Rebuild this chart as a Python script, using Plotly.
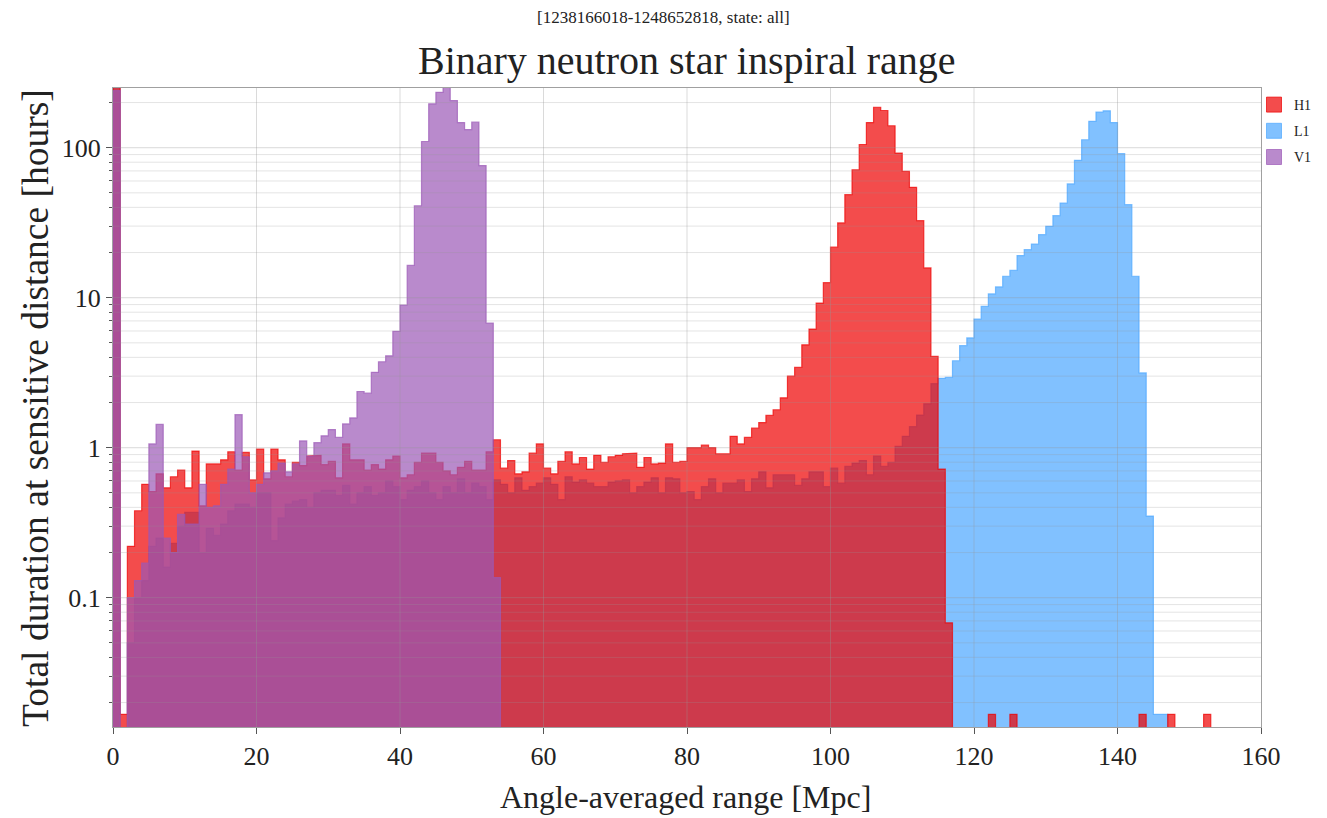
import math
import plotly.graph_objects as go

# ---------------- data (hours per 1-Mpc bin) ----------------
bin_edges = list(range(0, 161))

H1 = ([400, 0.0167,
       0.22, 0.38, 0.57, 0.51, 0.67, 0.54, 0.64, 0.71, 0.54, 0.95,
       0.41, 0.78, 0.78, 0.83, 0.94, 0.71, 0.93, 0.61, 0.98, 0.62,
       0.98, 0.83, 0.64, 0.80, 0.76, 0.88, 0.89, 0.77, 0.81, 0.63,
       1.06, 0.83, 0.83, 0.71, 0.77, 0.72, 0.83, 0.88, 0.63, 0.66,
       0.80, 0.92, 0.92, 0.80, 0.70, 0.66, 0.74, 0.81, 0.71, 0.71,
       0.94, 1.13,
       0.73, 0.82, 0.67, 0.69, 0.92, 1.06, 0.73, 0.67, 0.81, 0.94,
       0.78, 0.86, 0.72, 0.89, 0.80, 0.87, 0.89, 0.91, 0.92, 0.74,
       0.86, 0.78, 0.79, 1.06, 0.80, 0.81, 1.00, 1.00, 1.04, 1.00,
       0.91, 0.91, 1.19, 1.06, 1.17, 1.35, 1.47, 1.64, 1.79, 2.15,
       3.00, 3.43, 4.85, 6.18, 9.21, 12.6, 21.7, 31.5, 48.6, 71.3,
       105, 147, 186, 177, 140, 92, 69.5, 54.4, 32.6, 15.8,
       4.06, 0.72, 0.068,
       0, 0, 0, 0, 0, 0.0167, 0, 0, 0.0167]
      + [0] * 17
      + [0.0167, 0, 0, 0, 0.0167, 0, 0, 0, 0, 0.0167]
      + [0] * 7)

L1 = [400, 0,
      0.05, 0.10, 0.13, 0.22, 0.25, 0.16, 0.23, 0.30, 0.37, 0.37,
      0.20, 0.29, 0.26, 0.31, 0.38, 0.42, 0.42, 0.40, 0.50, 0.50,
      0.24, 0.34, 0.42, 0.44, 0.45, 0.40, 0.50, 0.52, 0.52, 0.48,
      0.56, 0.42, 0.50, 0.55, 0.48, 0.50, 0.60, 0.55, 0.45, 0.52,
      0.55, 0.60, 0.50, 0.45, 0.55, 0.50, 0.62, 0.50, 0.58, 0.55,
      0.45, 0.61,
      0.57, 0.50, 0.63, 0.52, 0.55, 0.58, 0.63, 0.57, 0.45, 0.64,
      0.59, 0.61, 0.58, 0.55, 0.55, 0.59, 0.60, 0.61, 0.50, 0.55,
      0.59, 0.63, 0.50, 0.63, 0.62, 0.50, 0.51, 0.45, 0.55, 0.62,
      0.50, 0.58, 0.58, 0.61, 0.51, 0.62, 0.69, 0.54, 0.66, 0.66,
      0.66, 0.56, 0.62, 0.69, 0.69, 0.55, 0.73, 0.58, 0.75, 0.79,
      0.82, 0.66, 0.88, 0.75, 0.80, 1.02, 1.19, 1.38, 1.65, 1.96,
      2.67, 2.90, 2.94,
      3.80, 4.79, 5.39, 7.21, 8.75, 10.6, 11.8, 13.9, 15.2, 19.1,
      20.9, 22.8, 26.3, 29.9, 35.2, 42.8, 57.3, 82.4, 113, 150,
      173, 176, 147, 91.2, 41.7, 13.9, 3.15, 0.35, 0.0167, 0.0167,
      0, 0, 0, 0, 0, 0, 0, 0, 0, 0,
      0, 0, 0]

V1 = [240, 0,
      0.10, 0.13, 0.17, 1.06, 1.43, 0.25, 0.20, 0.36, 0.31, 0.31,
      0.57, 0.40, 0.41, 0.57, 0.72, 1.66, 0.87, 0.50, 0.57, 0.68,
      0.70, 0.79, 0.69, 0.78, 1.11, 0.88, 1.08, 1.20, 1.32, 1.17,
      1.44, 1.58, 2.37, 2.31, 3.18, 3.74, 4.10, 5.97, 8.94, 16.4,
      41, 110, 196, 234, 255, 206, 147, 132, 148, 76,
      6.78, 0.136] + [0] * 106

assert len(H1) == len(L1) == len(V1) == len(bin_edges) - 1

series = [("H1", H1, (238, 0, 0), 1), ("L1", L1, (75, 166, 255), 2),
          ("V1", V1, (155, 89, 182), 3)]
draw_order = ["L1", "H1", "V1"]

x_ticks = [0, 20, 40, 60, 80, 100, 120, 140, 160]
y_major = [0.1, 1, 10, 100]
y_major_text = ["0.1", "1", "10", "100"]
y_min, y_max = 0.01374, 250.0

FONT = "Liberation Serif"
FLOOR = 1e-4


def step_outline(vals):
    xs, ys = [bin_edges[0]], [FLOOR]
    for i, v in enumerate(vals):
        y = v if v > 0 else FLOOR
        xs += [bin_edges[i], bin_edges[i + 1]]
        ys += [y, y]
    xs += [bin_edges[-1]]
    ys += [FLOOR]
    return xs, ys


fig = go.Figure()
lookup = {s[0]: s for s in series}
for name in draw_order:
    _, vals, rgb, rank = lookup[name]
    xs, ys = step_outline(vals)
    col = "rgba(%d,%d,%d,0.7)" % rgb
    fig.add_trace(go.Scatter(
        x=xs, y=ys, mode="lines", fill="toself", fillcolor=col,
        line=dict(color=col, width=1.2), name=name, showlegend=False,
        hoverinfo="skip"))

# legend entries with square patches
for name, vals, rgb, rank in series:
    col = "rgba(%d,%d,%d,0.7)" % rgb
    fig.add_trace(go.Scatter(
        x=[None], y=[None], mode="markers", name=name, legendrank=rank,
        legendgroup=name,
        marker=dict(symbol="square", size=15, color=col,
                    line=dict(color=col, width=1))))

# minor y values
y_minor = []
for d in range(-2, 3):
    for k in range(2, 10):
        v = k * 10 ** d
        if y_min < v < y_max:
            y_minor.append(v)


def hlines(vals):
    xs, ys = [], []
    for v in vals:
        xs += [0, 160, None]
        ys += [v, v, None]
    return xs, ys


# grid lines drawn above the histograms (as in the reference)
gx, gy = hlines(y_minor)
fig.add_trace(go.Scatter(x=gx, y=gy, mode="lines", showlegend=False,
                         hoverinfo="skip",
                         line=dict(color="rgba(150,150,150,0.25)", width=1)))
gx, gy = hlines(y_major)
fig.add_trace(go.Scatter(x=gx, y=gy, mode="lines", showlegend=False,
                         hoverinfo="skip",
                         line=dict(color="rgba(150,150,150,0.35)", width=1)))
vx, vy = [], []
for t in x_ticks[1:-1]:
    vx += [t, t, None]
    vy += [1e-4, 1e4, None]
fig.add_trace(go.Scatter(x=vx, y=vy, mode="lines", showlegend=False,
                         hoverinfo="skip",
                         line=dict(color="rgba(150,150,150,0.35)", width=1)))

W, H = 1327, 818
L, R, T, B = 113, 66, 88, 91
pw, ph = W - L - R, H - T - B

fig.update_layout(
    width=W, height=H,
    margin=dict(l=L, r=R, t=T, b=B, autoexpand=False),
    paper_bgcolor="white", plot_bgcolor="white",
    font=dict(family=FONT, color="#222"),
    showlegend=True,
    legend=dict(xref="container", yref="container",
                x=1254 / W, y=1 - 89 / H, xanchor="left", yanchor="top",
                font=dict(size=14, family=FONT), traceorder="grouped",
                tracegroupgap=5, bgcolor="rgba(0,0,0,0)",
                itemwidth=30),
    xaxis=dict(range=[0, 160], tickvals=x_ticks,
               ticktext=[str(t) for t in x_ticks],
               showgrid=False, zeroline=False, showline=True, mirror=True,
               linecolor="#a0a0a0", linewidth=1, ticks="outside", ticklen=6,
               tickcolor="#555", tickfont=dict(size=26, family=FONT)),
    yaxis=dict(type="log", range=[math.log10(y_min), math.log10(y_max)],
               tickvals=y_major, ticktext=y_major_text,
               showgrid=False, zeroline=False, showline=True, mirror=True,
               linecolor="#a0a0a0", linewidth=1, ticks="outside", ticklen=6,
               tickcolor="#555", tickfont=dict(size=26, family=FONT),
               minor=dict(tickmode="array", tickvals=y_minor, ticks="outside",
                          ticklen=3, tickcolor="#555", showgrid=False)),
)

fig.add_annotation(text="[1238166018-1248652818, state: all]",
                   xref="paper", yref="paper", x=(663 - L) / pw,
                   y=1 + (T - 18) / ph,
                   showarrow=False, font=dict(size=17, family=FONT),
                   xanchor="center", yanchor="middle")
fig.add_annotation(text="Binary neutron star inspiral range",
                   xref="paper", yref="paper", x=0.5, y=1 + (T - 60) / ph,
                   showarrow=False, font=dict(size=40, family=FONT),
                   xanchor="center", yanchor="middle")
fig.add_annotation(text="Angle-averaged range [Mpc]",
                   xref="paper", yref="paper", x=(685 - L) / pw,
                   y=-(797 - (T + ph)) / ph,
                   showarrow=False, font=dict(size=32, family=FONT),
                   xanchor="center", yanchor="middle")
fig.add_annotation(text="Total duration at sensitive distance [hours]",
                   xref="paper", yref="paper", x=(35 - L) / pw,
                   y=1 - (408 - T) / ph, textangle=-90,
                   showarrow=False, font=dict(size=37.5, family=FONT),
                   xanchor="center", yanchor="middle")

fig.write_html("out.html")
